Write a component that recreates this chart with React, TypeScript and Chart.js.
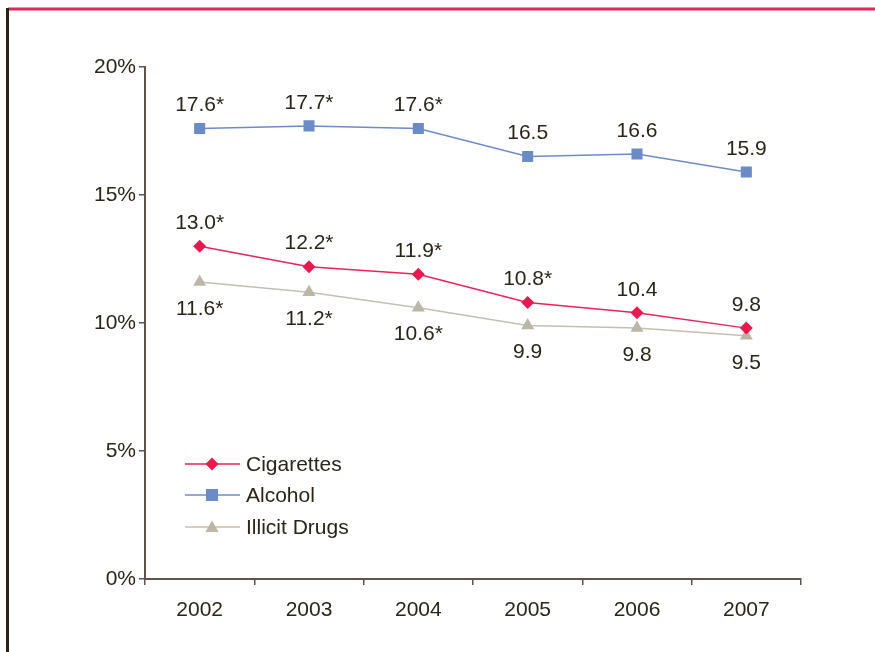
import React, { useEffect, useRef } from "react";
import { Chart, registerables } from "chart.js";

Chart.register(...registerables);

const years = ["2002", "2003", "2004", "2005", "2006", "2007"];
const cigarettes = [13.0, 12.2, 11.9, 10.8, 10.4, 9.8];
const alcohol = [17.6, 17.7, 17.6, 16.5, 16.6, 15.9];
const illicit = [11.6, 11.2, 10.6, 9.9, 9.8, 9.5];
const cigLabels = ["13.0*", "12.2*", "11.9*", "10.8*", "10.4", "9.8"];
const alcLabels = ["17.6*", "17.7*", "17.6*", "16.5", "16.6", "15.9"];
const illLabels = ["11.6*", "11.2*", "10.6*", "9.9", "9.8", "9.5"];
const seriesNames = ["Cigarettes", "Alcohol", "Illicit Drugs"];

const FONT = "'Liberation Sans', Arial, Helvetica, sans-serif";
const FS = 21;
const TEXT = "#2b2419";
const AXIS = "#5e5449";

export default function App() {
  const ref = useRef<HTMLCanvasElement | null>(null);
  useEffect(() => {
    if (!ref.current) return;
    const labelSets = [cigLabels, alcLabels, illLabels];
    const labelOffsets = [-23, -23, 27];

    const framePlugin = {
      id: "frame",
      beforeDraw(chart: any) {
        const c = chart.ctx;
        c.save();
        c.fillStyle = "#ffffff";
        c.fillRect(0, 0, chart.width, chart.height);
        c.fillStyle = "#e8245a";
        c.fillRect(8, 7.5, chart.width - 8, 3);
        c.fillStyle = "#2a2218";
        c.fillRect(6, 8, 3, chart.height - 8);
        c.restore();
      },
    };

    const labelPlugin = {
      id: "valueLabels",
      afterDatasetsDraw(chart: any) {
        const c = chart.ctx;
        c.save();
        c.font = `${FS}px ${FONT}`;
        c.fillStyle = TEXT;
        c.textAlign = "center";
        c.textBaseline = "middle";
        chart.data.datasets.forEach((ds: any, i: number) => {
          const meta = chart.getDatasetMeta(i);
          meta.data.forEach((pt: any, j: number) => {
            c.fillText(labelSets[i][j], pt.x, pt.y + labelOffsets[i]);
          });
        });
        // legend
        const rows = [464, 495, 527];
        chart.data.datasets.forEach((ds: any, i: number) => {
          const y = rows[i];
          c.strokeStyle = ds.borderColor;
          c.lineWidth = 1.5;
          c.beginPath();
          c.moveTo(185, y);
          c.lineTo(240, y);
          c.stroke();
          c.fillStyle = ds.pointBackgroundColor;
          const x = 212;
          c.beginPath();
          if (ds.pointStyle === "rectRot") {
            c.moveTo(x, y - 6.5);
            c.lineTo(x + 6.5, y);
            c.lineTo(x, y + 6.5);
            c.lineTo(x - 6.5, y);
          } else if (ds.pointStyle === "rect") {
            c.rect(x - 6, y - 6, 12, 12);
          } else {
            c.moveTo(x, y - 6.5);
            c.lineTo(x + 6.5, y + 5);
            c.lineTo(x - 6.5, y + 5);
          }
          c.closePath();
          c.fill();
          c.fillStyle = TEXT;
          c.textAlign = "left";
          c.fillText(ds.label, 246, y + 1);
        });
        c.restore();
      },
    };

    const chart = new Chart(ref.current, {
      type: "line",
      data: {
        labels: years,
        datasets: [
          {
            label: seriesNames[0],
            data: cigarettes,
            borderColor: "#e8245a",
            backgroundColor: "#e8194f",
            pointBackgroundColor: "#e8194f",
            pointBorderWidth: 0,
            pointStyle: "rectRot",
            pointRadius: 6.5,
            borderWidth: 1.5,
          },
          {
            label: seriesNames[1],
            data: alcohol,
            borderColor: "#6b8cc8",
            backgroundColor: "#6a8bc6",
            pointBackgroundColor: "#6a8bc6",
            pointBorderWidth: 0,
            pointStyle: "rect",
            pointRadius: 7.8,
            borderWidth: 1.5,
          },
          {
            label: seriesNames[2],
            data: illicit,
            borderColor: "#c4bfb1",
            backgroundColor: "#bcb6a6",
            pointBackgroundColor: "#bcb6a6",
            pointBorderWidth: 0,
            pointStyle: "triangle",
            pointRadius: 7.5,
            borderWidth: 1.5,
          },
        ],
      },
      options: {
        animation: false,
        responsive: false,
        devicePixelRatio: 1,
        layout: { padding: { top: 67, right: 74, left: 0, bottom: 0 } },
        plugins: { legend: { display: false }, tooltip: { enabled: false } },
        scales: {
          x: {
            offset: true,
            grid: {
              offset: true,
              drawOnChartArea: false,
              tickLength: 6,
              color: AXIS,
              lineWidth: 1.5,
            },
            border: { color: AXIS, width: 2 },
            ticks: {
              font: { family: FONT, size: FS },
              color: TEXT,
              padding: 13,
              maxRotation: 0,
            },
            afterFit(scale: any) {
              scale.height = 73;
            },
          },
          y: {
            min: 0,
            max: 20,
            grid: {
              drawOnChartArea: false,
              tickLength: 6,
              color: AXIS,
              lineWidth: 1.5,
            },
            border: { color: AXIS, width: 2 },
            ticks: {
              stepSize: 5,
              font: { family: FONT, size: FS },
              color: TEXT,
              padding: 3,
              callback: (v: any) => `${v}%`,
            },
            afterFit(scale: any) {
              scale.width = 145;
            },
          },
        },
      },
      plugins: [framePlugin, labelPlugin],
    });
    return () => chart.destroy();
  }, []);
  return (
    <div style={{ position: "fixed", left: 0, top: 0, width: 875, height: 652 }}>
      <canvas ref={ref} width={875} height={652} style={{ width: 875, height: 652 }} />
    </div>
  );
}
